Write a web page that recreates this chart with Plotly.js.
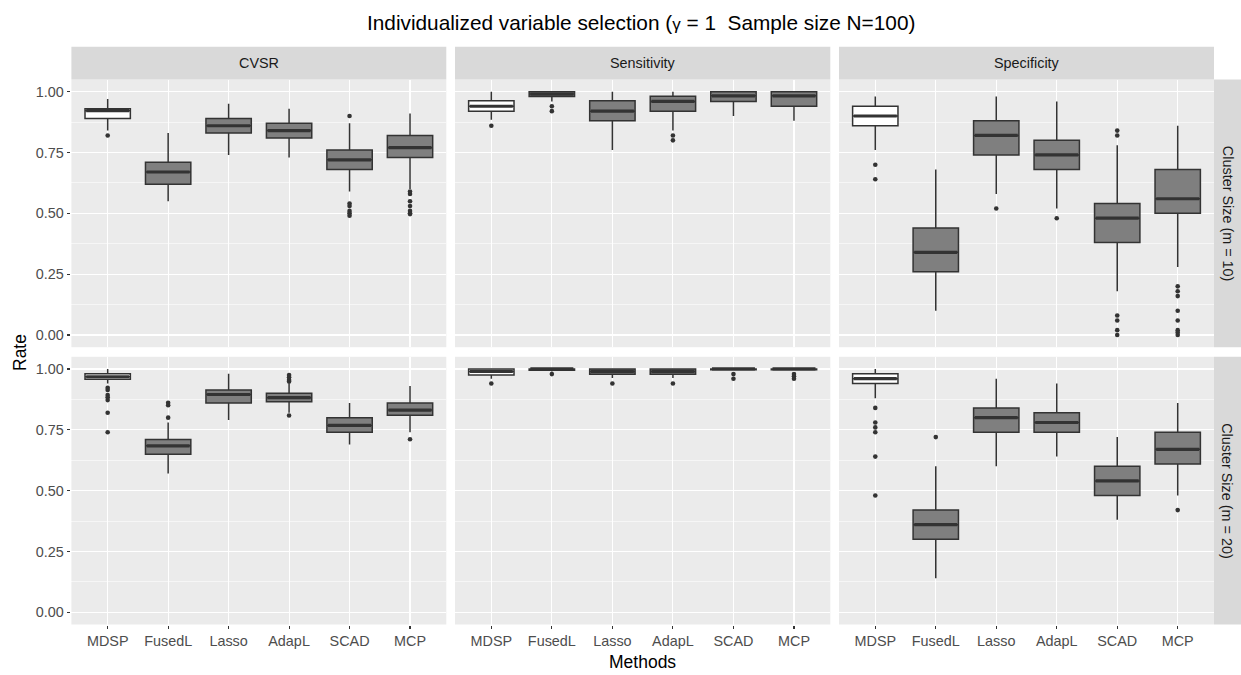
<!DOCTYPE html>
<html>
<head>
<meta charset="utf-8">
<script src="https://cdn.plot.ly/plotly-3.0.1.min.js"></script>
<style>html,body{margin:0;padding:0;background:#fff}#chart{width:1241px;height:675px}</style>
</head>
<body>
<div id="chart"></div>
<script>
// ---- data ----
const methods = ["MDSP", "FusedL", "Lasso", "AdapL", "SCAD", "MCP"];
const metrics = ["CVSR", "Sensitivity", "Specificity"];
const clusterLabels = ["Cluster Size (m = 10)", "Cluster Size (m = 20)"];
const yTickVals = [0, 0.25, 0.5, 0.75, 1];
const yTickText = ["0.00", "0.25", "0.50", "0.75", "1.00"];

// CVSR, m = 10
const cvsr10Lower  = [0.84, 0.55, 0.74, 0.73, 0.59, 0.60];
const cvsr10Q1     = [0.89, 0.62, 0.83, 0.81, 0.68, 0.73];
const cvsr10Median = [0.922, 0.67, 0.86, 0.84, 0.72, 0.77];
const cvsr10Q3     = [0.93, 0.71, 0.89, 0.87, 0.76, 0.82];
const cvsr10Upper  = [0.97, 0.83, 0.95, 0.93, 0.87, 0.91];
const cvsr10OutMethod = ["MDSP", "SCAD", "SCAD", "SCAD", "SCAD", "SCAD", "SCAD", "MCP", "MCP", "MCP", "MCP", "MCP", "MCP", "MCP"];
const cvsr10OutValue  = [0.82, 0.90, 0.54, 0.53, 0.51, 0.50, 0.49, 0.59, 0.58, 0.55, 0.53, 0.51, 0.50, 0.497];

// Sensitivity, m = 10
const sens10Lower  = [0.885, 0.96, 0.76, 0.84, 0.90, 0.88];
const sens10Q1     = [0.92, 0.98, 0.88, 0.92, 0.96, 0.94];
const sens10Median = [0.94, 0.99, 0.92, 0.96, 0.983, 0.983];
const sens10Q3     = [0.963, 1.00, 0.963, 0.981, 1.00, 1.00];
const sens10Upper  = [1.00, 1.00, 1.00, 1.00, 1.00, 1.00];
const sens10OutMethod = ["MDSP", "FusedL", "FusedL", "AdapL", "AdapL"];
const sens10OutValue  = [0.86, 0.94, 0.92, 0.82, 0.80];

// Specificity, m = 10
const spec10Lower  = [0.76, 0.10, 0.58, 0.52, 0.18, 0.28];
const spec10Q1     = [0.86, 0.26, 0.74, 0.68, 0.38, 0.50];
const spec10Median = [0.90, 0.34, 0.82, 0.74, 0.48, 0.56];
const spec10Q3     = [0.94, 0.44, 0.88, 0.80, 0.54, 0.68];
const spec10Upper  = [0.98, 0.68, 0.98, 0.96, 0.78, 0.86];
const spec10OutMethod = ["MDSP", "MDSP", "Lasso", "AdapL", "SCAD", "SCAD", "SCAD", "SCAD", "SCAD", "SCAD", "MCP", "MCP", "MCP", "MCP", "MCP", "MCP", "MCP", "MCP"];
const spec10OutValue  = [0.70, 0.64, 0.52, 0.48, 0.84, 0.82, 0.08, 0.06, 0.02, 0.00, 0.20, 0.18, 0.16, 0.10, 0.06, 0.02, 0.01, 0.00];

// CVSR, m = 20
const cvsr20Lower  = [0.94, 0.57, 0.79, 0.82, 0.69, 0.74];
const cvsr20Q1     = [0.958, 0.65, 0.86, 0.865, 0.74, 0.81];
const cvsr20Median = [0.968, 0.684, 0.895, 0.882, 0.768, 0.831];
const cvsr20Q3     = [0.98, 0.71, 0.914, 0.90, 0.80, 0.86];
const cvsr20Upper  = [1.00, 0.78, 0.98, 0.94, 0.86, 0.93];
const cvsr20OutMethod = ["MDSP", "MDSP", "MDSP", "MDSP", "MDSP", "MDSP", "MDSP", "FusedL", "FusedL", "FusedL", "AdapL", "AdapL", "AdapL", "AdapL", "AdapL", "MCP"];
const cvsr20OutValue  = [0.923, 0.914, 0.893, 0.884, 0.872, 0.82, 0.74, 0.861, 0.851, 0.80, 0.975, 0.966, 0.955, 0.948, 0.809, 0.711];

// Sensitivity, m = 20
const sens20Lower  = [0.96, 0.99, 0.963, 0.963, 1.00, 1.00];
const sens20Q1     = [0.975, 0.995, 0.978, 0.978, 0.997, 0.997];
const sens20Median = [0.99, 1.00, 0.99, 0.99, 1.00, 1.00];
const sens20Q3     = [1.00, 1.00, 1.00, 1.00, 1.00, 1.00];
const sens20Upper  = [1.00, 1.00, 1.00, 1.00, 1.00, 1.00];
const sens20OutMethod = ["MDSP", "FusedL", "Lasso", "AdapL", "SCAD", "SCAD", "MCP", "MCP", "MCP"];
const sens20OutValue  = [0.94, 0.979, 0.94, 0.94, 0.979, 0.96, 0.979, 0.97, 0.96];

// Specificity, m = 20
const spec20Lower  = [0.88, 0.14, 0.60, 0.64, 0.38, 0.48];
const spec20Q1     = [0.94, 0.30, 0.74, 0.74, 0.48, 0.61];
const spec20Median = [0.96, 0.36, 0.80, 0.78, 0.54, 0.67];
const spec20Q3     = [0.98, 0.42, 0.84, 0.82, 0.60, 0.74];
const spec20Upper  = [1.00, 0.60, 0.96, 0.94, 0.72, 0.86];
const spec20OutMethod = ["MDSP", "MDSP", "MDSP", "MDSP", "MDSP", "MDSP", "FusedL", "MCP"];
const spec20OutValue  = [0.84, 0.78, 0.76, 0.74, 0.64, 0.48, 0.72, 0.42];

// ---- panels ----
const panels = [
  {row: 0, col: 0, lower: cvsr10Lower, q1: cvsr10Q1, med: cvsr10Median, q3: cvsr10Q3, upper: cvsr10Upper, outM: cvsr10OutMethod, outV: cvsr10OutValue},
  {row: 0, col: 1, lower: sens10Lower, q1: sens10Q1, med: sens10Median, q3: sens10Q3, upper: sens10Upper, outM: sens10OutMethod, outV: sens10OutValue},
  {row: 0, col: 2, lower: spec10Lower, q1: spec10Q1, med: spec10Median, q3: spec10Q3, upper: spec10Upper, outM: spec10OutMethod, outV: spec10OutValue},
  {row: 1, col: 0, lower: cvsr20Lower, q1: cvsr20Q1, med: cvsr20Median, q3: cvsr20Q3, upper: cvsr20Upper, outM: cvsr20OutMethod, outV: cvsr20OutValue},
  {row: 1, col: 1, lower: sens20Lower, q1: sens20Q1, med: sens20Median, q3: sens20Q3, upper: sens20Upper, outM: sens20OutMethod, outV: sens20OutValue},
  {row: 1, col: 2, lower: spec20Lower, q1: spec20Q1, med: spec20Median, q3: spec20Q3, upper: spec20Upper, outM: spec20OutMethod, outV: spec20OutValue}
];

const W = 1241, H = 675;
const colPx = [[71.4, 446.3], [455, 830.3], [839, 1214]];
const rowPx = [[79.5, 347.2], [356.8, 624.5]];
const stripTop = 46.7, stripRight = 1241;
const FONT = "Liberation Sans, Arial, Helvetica, sans-serif";
const BOXW = 0.75;
const LINE = "#333333";
const SMALL = 14.4, AXT = 17.5, TTL = 20.8;

const pos = methods.map((m, i) => i + 1);
const data = [];
const layout = {
  width: W, height: H,
  margin: {l: 0, r: 0, t: 0, b: 0},
  paper_bgcolor: "#ffffff",
  plot_bgcolor: "#EBEBEB",
  showlegend: false,
  boxmode: "overlay",
  font: {family: FONT},
  shapes: [],
  annotations: []
};

panels.forEach((p, k) => {
  const sfx = k === 0 ? "" : String(k + 1);
  const xa = "x" + sfx, ya = "y" + sfx;
  const idx = [0, 1, 2, 3, 4, 5];
  const groups = [[0], [1, 2, 3, 4, 5]];
  groups.forEach((g, gi) => {
    data.push({
      type: "box", xaxis: xa, yaxis: ya,
      x: g.map(i => pos[i]),
      q1: g.map(i => p.q1[i]),
      median: g.map(i => p.med[i]),
      q3: g.map(i => p.q3[i]),
      lowerfence: g.map(i => p.lower[i]),
      upperfence: g.map(i => p.upper[i]),
      width: BOXW,
      whiskerwidth: 0,
      fillcolor: gi === 0 ? "#ffffff" : "#7f7f7f",
      line: {color: LINE, width: 1.5},
      hoverinfo: "skip"
    });
  });
  // thick median lines (ggplot style)
  const mx = [], my = [];
  idx.forEach(i => { mx.push(pos[i] - BOXW / 2 + 0.02, pos[i] + BOXW / 2 - 0.02, null); my.push(p.med[i], p.med[i], null); });
  data.push({type: "scatter", mode: "lines", xaxis: xa, yaxis: ya, x: mx, y: my,
    line: {color: LINE, width: 3.2}, hoverinfo: "skip"});
  // outliers
  data.push({type: "scatter", mode: "markers", xaxis: xa, yaxis: ya,
    x: p.outM.map(m => methods.indexOf(m) + 1), y: p.outV,
    marker: {color: LINE, size: 4.6}, hoverinfo: "skip"});

  const cd = colPx[p.col], rd = rowPx[p.row];
  const bottomRow = p.row === 1, leftCol = p.col === 0;
  layout["xaxis" + sfx] = {
    domain: [cd[0] / W, cd[1] / W], anchor: ya,
    range: [0.4, 6.6], tickmode: "array", tickvals: pos, ticktext: methods,
    showticklabels: bottomRow, ticks: bottomRow ? "outside" : "",
    ticklen: 3.7, tickwidth: 1.1, tickcolor: LINE,
    tickfont: {size: SMALL, color: "#4d4d4d", family: FONT},
    showgrid: true, gridcolor: "#ffffff", gridwidth: 1.1,
    zeroline: false, showline: false, fixedrange: true
  };
  layout["yaxis" + sfx] = {
    domain: [1 - rd[1] / H, 1 - rd[0] / H], anchor: xa,
    range: [-0.05, 1.05], tickmode: "array", tickvals: yTickVals, ticktext: yTickText,
    showticklabels: leftCol, ticks: leftCol ? "outside" : "",
    ticklen: 3.7, tickwidth: 1.1, tickcolor: LINE,
    tickfont: {size: SMALL, color: "#4d4d4d", family: FONT},
    showgrid: true, gridcolor: "#ffffff", gridwidth: 1.1,
    minor: {tickmode: "array", tickvals: [0.125, 0.375, 0.625, 0.875], showgrid: true, gridcolor: "#ffffff", gridwidth: 0.55, ticks: ""},
    zeroline: false, showline: false, fixedrange: true
  };
});

// top strips
metrics.forEach((m, c) => {
  const cd = colPx[c];
  layout.shapes.push({type: "rect", xref: "paper", yref: "paper",
    x0: cd[0] / W, x1: cd[1] / W, y0: 1 - rowPx[0][0] / H, y1: 1 - stripTop / H,
    fillcolor: "#D9D9D9", line: {width: 0}, layer: "below"});
  layout.annotations.push({xref: "paper", yref: "paper", x: (cd[0] + cd[1]) / 2 / W, y: 1 - (stripTop + rowPx[0][0]) / 2 / H,
    text: m, showarrow: false, xanchor: "center", yanchor: "middle",
    font: {size: SMALL, color: "#1a1a1a", family: FONT}});
});
// right strips
clusterLabels.forEach((lab, r) => {
  const rd = rowPx[r];
  layout.shapes.push({type: "rect", xref: "paper", yref: "paper",
    x0: colPx[2][1] / W, x1: stripRight / W, y0: 1 - rd[1] / H, y1: 1 - rd[0] / H,
    fillcolor: "#D9D9D9", line: {width: 0}, layer: "below"});
  layout.annotations.push({xref: "paper", yref: "paper", x: (colPx[2][1] + stripRight) / 2 / W, y: 1 - (rd[0] + rd[1]) / 2 / H,
    text: lab, textangle: 90, showarrow: false, xanchor: "center", yanchor: "middle",
    font: {size: SMALL, color: "#1a1a1a", family: FONT}});
});
// title and axis titles
layout.annotations.push({xref: "paper", yref: "paper", x: 641 / W, y: 1 - 22 / H,
  text: "Individualized variable selection (<span style=\"font-size:17px\">\u03b3</span> = 1 \u00a0Sample size N=100)", showarrow: false,
  xanchor: "center", yanchor: "middle", font: {size: TTL, color: "#000000", family: FONT}});
layout.annotations.push({xref: "paper", yref: "paper", x: (colPx[0][0] + colPx[2][1]) / 2 / W, y: 1 - 662 / H,
  text: "Methods", showarrow: false, xanchor: "center", yanchor: "middle",
  font: {size: AXT, color: "#000000", family: FONT}});
layout.annotations.push({xref: "paper", yref: "paper", x: 20 / W, y: 1 - (rowPx[0][0] + rowPx[1][1]) / 2 / H,
  text: "Rate", textangle: -90, showarrow: false, xanchor: "center", yanchor: "middle",
  font: {size: AXT, color: "#000000", family: FONT}});

Plotly.newPlot("chart", data, layout, {displayModeBar: false, staticPlot: true});
</script>
</body>
</html>
